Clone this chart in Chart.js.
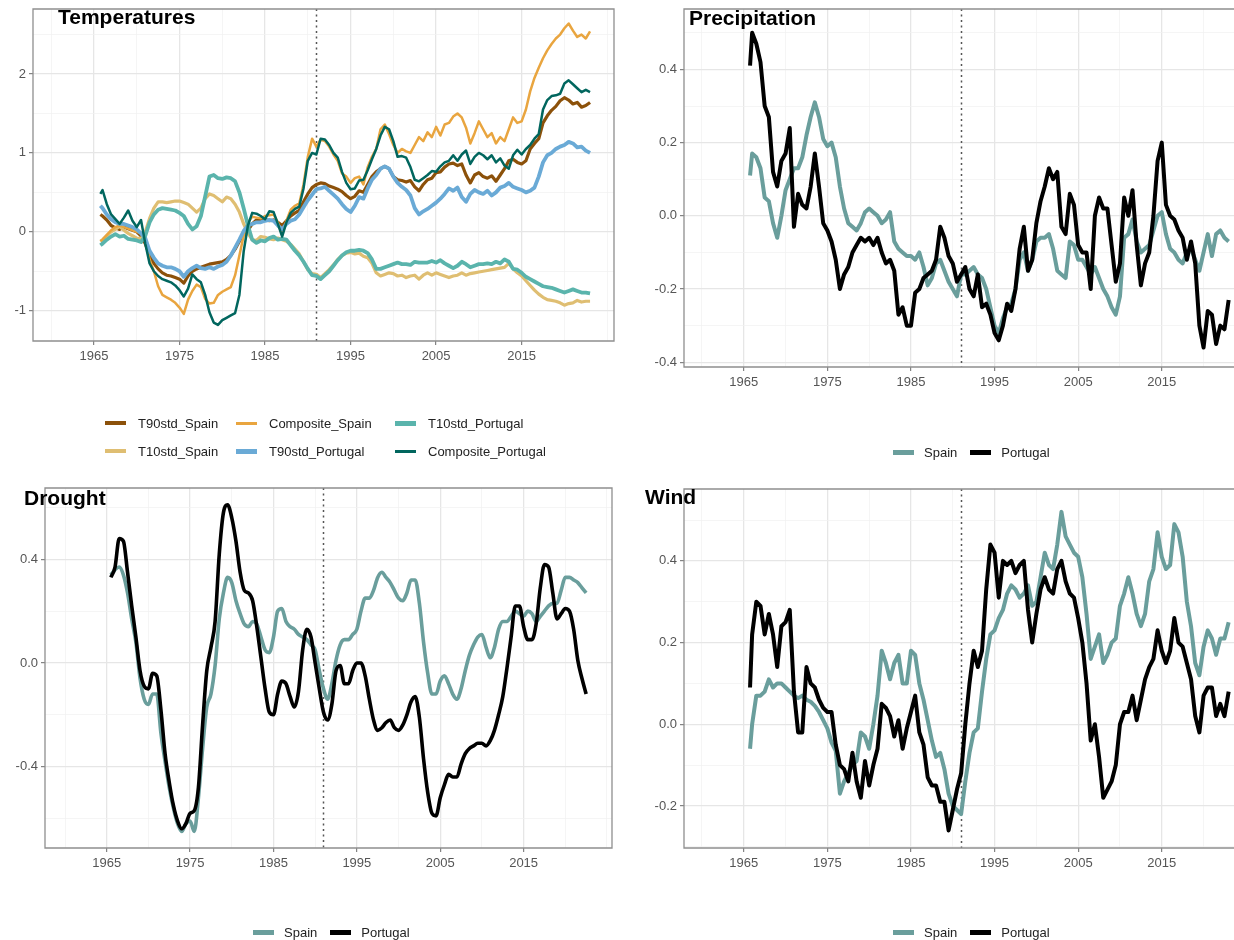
<!DOCTYPE html>
<html>
<head>
<meta charset="utf-8">
<title>Temperatures, Precipitation, Drought and Wind: Spain and Portugal</title>
<script src="https://cdn.jsdelivr.net/npm/chart.js@4.4.1/dist/chart.umd.min.js"></script>
<style>
  html, body { margin: 0; padding: 0; background: #fff; }
  body { width: 1234px; height: 940px; position: relative; overflow: hidden;
         font-family: "Liberation Sans", Arial, Helvetica, sans-serif; }
  canvas { position: absolute; }
  .title { position: absolute; font-weight: bold; font-size: 21px; line-height: 21px;
           color: #000; white-space: nowrap; z-index: 2; }
  .legend { position: absolute; font-size: 13px; color: #222; z-index: 2; }
  .legend.grid { display: grid; grid-auto-flow: column; grid-template-rows: 28px 28px;
                 grid-template-columns: 131px 159px auto; }
  .legend.row { display: flex; height: 28px; }
  .item { display: flex; align-items: center; height: 28px; white-space: nowrap; }
  .legend.row .item { margin-right: 13px; }
  .key { display: inline-block; width: 21px; margin-right: 10px; }
  .legend.grid .key { margin-right: 12px; }
</style>
</head>
<body>
<canvas id="tempChart" width="620" height="470" style="left:0;top:0;width:620px;height:470px"></canvas>
<canvas id="precChart" width="614" height="470" style="left:620px;top:0;width:614px;height:470px"></canvas>
<canvas id="drouChart" width="620" height="470" style="left:0;top:470px;width:620px;height:470px"></canvas>
<canvas id="windChart" width="614" height="470" style="left:620px;top:470px;width:614px;height:470px"></canvas>

<div class="title" style="left:58px;top:6px">Temperatures</div>
<div class="title" style="left:689px;top:7px">Precipitation</div>
<div class="title" style="left:24px;top:487px">Drought</div>
<div class="title" style="left:645px;top:486px">Wind</div>

<div id="tempLegend" class="legend grid" style="left:105px;top:409px"></div>
<div id="precLegend" class="legend row" style="left:893px;top:438px"></div>
<div id="drouLegend" class="legend row" style="left:253px;top:918px"></div>
<div id="windLegend" class="legend row" style="left:893px;top:918px"></div>

<script>
// time index: half-year steps, first observation just before 1966
const years = [1965.75];
for (let y = 1966; y <= 2023; y += 0.5) years.push(y);
// the drought index is smoothed and starts half a year earlier
const droughtYears = [];
for (let y = 1965.5; y <= 2022.5; y += 0.5) droughtYears.push(y);

const breakYear = 1991;
const xTicks = [1960, 1965, 1970, 1975, 1980, 1985, 1990, 1995, 2000, 2005, 2010, 2015, 2020, 2025];
const xLabels = [1965, 1975, 1985, 1995, 2005, 2015];

const tempTicks = [-1.5, -1, -0.5, 0, 0.5, 1, 1.5, 2, 2.5];
const tempLabels = [-1, 0, 1, 2];
const precTicks = [-0.4, -0.3, -0.2, -0.1, 0, 0.1, 0.2, 0.3, 0.4, 0.5];
const precLabels = [-0.4, -0.2, 0, 0.2, 0.4];
const drouTicks = [-0.6, -0.4, -0.2, 0, 0.2, 0.4, 0.6];
const drouLabels = [-0.4, 0, 0.4];
const windTicks = [-0.3, -0.2, -0.1, 0, 0.1, 0.2, 0.3, 0.4, 0.5];
const windLabels = [-0.2, 0, 0.2, 0.4];

// ---- Temperatures (standardised indices) ----
const t90Spain = [0.22,
  0.2, 0.15, 0.08, 0.05, 0.03, 0.06, 0.04, 0.02, 0.0, -0.05,
  -0.15, -0.3, -0.4, -0.47, -0.52, -0.55, -0.56, -0.58, -0.6, -0.65,
  -0.56, -0.5, -0.47, -0.45, -0.43, -0.41, -0.4, -0.39, -0.38, -0.35,
  -0.3, -0.22, -0.12, -0.03, 0.02, 0.1, 0.15, 0.14, 0.16, 0.14,
  0.15, 0.12, 0.08, 0.14, 0.2, 0.24, 0.27, 0.38, 0.48, 0.56,
  0.6, 0.62, 0.61, 0.58, 0.56, 0.54, 0.51, 0.46, 0.42, 0.45,
  0.52, 0.5, 0.6, 0.7, 0.76, 0.8, 0.83, 0.8, 0.7, 0.66,
  0.65, 0.63, 0.65, 0.57, 0.52, 0.6, 0.66, 0.68, 0.75, 0.76,
  0.82, 0.86, 0.87, 0.84, 0.86, 0.72, 0.62, 0.72, 0.75, 0.7,
  0.68, 0.71, 0.64, 0.72, 0.8, 0.9, 0.92, 0.88, 0.86, 0.9,
  1.05, 1.12, 1.18, 1.38, 1.47, 1.54, 1.59, 1.66, 1.7, 1.67,
  1.62, 1.64, 1.58, 1.6, 1.64];
const t10Spain = [-0.12,
  -0.1, -0.05, 0.0, 0.03, 0.07, 0.02, -0.02, -0.05, -0.08, -0.09,
  0.0, 0.17, 0.3, 0.38, 0.38, 0.37, 0.38, 0.39, 0.39, 0.37,
  0.35, 0.3, 0.25, 0.3, 0.42, 0.48, 0.46, 0.42, 0.38, 0.44,
  0.42, 0.35, 0.25, 0.1, -0.02, -0.1, -0.11, -0.06, -0.07, -0.09,
  -0.1, -0.08, -0.1, -0.12, -0.16, -0.22, -0.28, -0.38, -0.48, -0.53,
  -0.54, -0.58, -0.53, -0.48, -0.42, -0.35, -0.3, -0.27, -0.26, -0.28,
  -0.27, -0.31, -0.33, -0.4, -0.52, -0.56, -0.54, -0.52, -0.53, -0.56,
  -0.55, -0.58, -0.56, -0.55, -0.6, -0.55, -0.52, -0.55, -0.52, -0.54,
  -0.56, -0.58, -0.56, -0.55, -0.52, -0.55, -0.53, -0.52, -0.51, -0.5,
  -0.49, -0.48, -0.47, -0.46, -0.45, -0.4, -0.47, -0.52, -0.56, -0.62,
  -0.68, -0.74, -0.79, -0.83, -0.86, -0.87, -0.88, -0.9, -0.93, -0.91,
  -0.9, -0.87, -0.89, -0.88, -0.88];
const compSpain = [-0.12,
  -0.1, -0.04, 0.02, 0.06, 0.08, 0.06, 0.04, 0.02, 0.0, -0.02,
  -0.1, -0.35, -0.5, -0.69, -0.8, -0.83, -0.86, -0.9, -0.96, -1.04,
  -0.86, -0.75, -0.67, -0.7, -0.85, -0.91, -0.9, -0.8, -0.76, -0.73,
  -0.7, -0.55, -0.3, -0.05, 0.12, 0.19, 0.18, 0.17, 0.2, 0.21,
  0.22, 0.12, -0.04, 0.14, 0.28, 0.33, 0.36, 0.6, 0.95, 1.18,
  1.08, 1.17, 1.15, 1.08, 0.98, 0.9, 0.74, 0.7, 0.62, 0.68,
  0.7, 0.6, 0.82, 0.95, 1.05, 1.3, 1.36, 1.24, 1.1, 1.0,
  1.05, 1.02, 1.0, 1.1, 1.2, 1.15, 1.26, 1.2, 1.33, 1.22,
  1.36, 1.38, 1.46, 1.5, 1.45, 1.32, 1.12, 1.25, 1.4, 1.3,
  1.2, 1.25, 1.12, 1.2, 1.15, 1.3, 1.45, 1.38, 1.4, 1.55,
  1.78, 1.95, 2.08, 2.2, 2.3, 2.38, 2.45, 2.5, 2.58, 2.64,
  2.55, 2.47, 2.5, 2.45, 2.54];
const t90Portugal = [0.33,
  0.3, 0.22, 0.16, 0.12, 0.1, 0.1, 0.08, 0.06, 0.03, -0.02,
  -0.08, -0.24, -0.33, -0.4, -0.43, -0.45, -0.45, -0.47, -0.5, -0.57,
  -0.5, -0.46, -0.43, -0.46, -0.47, -0.45, -0.47, -0.44, -0.42, -0.38,
  -0.3, -0.2, -0.1, 0.01, 0.08, 0.1, 0.12, 0.12, 0.14, 0.15,
  0.14, 0.08, 0.03, 0.1, 0.14, 0.16, 0.22, 0.31, 0.4, 0.47,
  0.54, 0.55, 0.57, 0.52, 0.47, 0.42, 0.35, 0.29, 0.25, 0.33,
  0.44, 0.42, 0.55, 0.66, 0.72, 0.8, 0.83, 0.8, 0.7, 0.62,
  0.57, 0.53, 0.46, 0.3, 0.22, 0.26, 0.29, 0.33, 0.37, 0.42,
  0.48, 0.55, 0.52, 0.56, 0.44, 0.38, 0.48, 0.53, 0.5, 0.48,
  0.52, 0.46, 0.5, 0.56, 0.58, 0.62, 0.57, 0.55, 0.53, 0.5,
  0.52, 0.56, 0.7, 0.88, 0.97, 1.0, 1.05, 1.08, 1.1, 1.14,
  1.12, 1.07, 1.08, 1.03, 1.0];
const t10Portugal = [-0.17,
  -0.15, -0.1, -0.06, -0.03, -0.06, -0.05, -0.09, -0.1, -0.11, -0.13,
  -0.05, 0.12, 0.22, 0.28, 0.3, 0.29, 0.28, 0.27, 0.24, 0.2,
  0.1, 0.03, 0.07, 0.2, 0.45, 0.7, 0.72, 0.68, 0.67, 0.69,
  0.68, 0.64, 0.5, 0.3, 0.08, -0.1, -0.14, -0.11, -0.12, -0.08,
  -0.06, -0.1, -0.09, -0.1, -0.17, -0.24, -0.3, -0.38, -0.47, -0.55,
  -0.56, -0.6, -0.55, -0.5, -0.43, -0.36, -0.3, -0.26, -0.24, -0.24,
  -0.23, -0.24, -0.27, -0.35, -0.47, -0.47, -0.45, -0.43, -0.41, -0.39,
  -0.41, -0.41, -0.42, -0.38, -0.39, -0.39, -0.39, -0.37, -0.39, -0.36,
  -0.4, -0.43, -0.46, -0.43, -0.38, -0.41, -0.45, -0.43, -0.41, -0.41,
  -0.4, -0.41, -0.38, -0.4, -0.35, -0.38, -0.47, -0.48, -0.52, -0.57,
  -0.6, -0.63, -0.66, -0.69, -0.7, -0.71, -0.73, -0.75, -0.77, -0.75,
  -0.73, -0.75, -0.77, -0.77, -0.78];
const compPortugal = [0.48,
  0.53, 0.35, 0.22, 0.16, 0.1, 0.18, 0.27, 0.14, 0.06, 0.15,
  -0.15, -0.4, -0.5, -0.56, -0.6, -0.62, -0.64, -0.68, -0.74, -0.82,
  -0.72, -0.54, -0.6, -0.64, -0.8, -1.02, -1.15, -1.18, -1.12, -1.09,
  -1.06, -1.03, -0.8, -0.25, 0.08, 0.24, 0.23, 0.2, 0.16, 0.26,
  0.25, 0.1, -0.06, 0.12, 0.24, 0.29, 0.32, 0.55, 0.9, 1.0,
  0.98, 1.18, 1.17, 1.1, 1.0, 0.94, 0.76, 0.62, 0.54, 0.55,
  0.65, 0.66, 0.78, 0.92, 1.05, 1.22, 1.33, 1.3, 1.15, 0.95,
  0.96, 0.94, 0.82, 0.66, 0.64, 0.68, 0.72, 0.77, 0.76, 0.83,
  0.88, 0.9, 0.97, 0.9, 0.98, 1.03, 0.86, 0.95, 1.0, 0.97,
  0.92, 0.97, 0.88, 0.93, 0.84, 0.8, 0.97, 1.04, 0.98, 1.05,
  1.1, 1.18, 1.24, 1.55, 1.67, 1.72, 1.73, 1.75, 1.88, 1.92,
  1.87, 1.82, 1.77, 1.8, 1.77];

// ---- Precipitation ----
const precSpain = [0.11,
  0.17, 0.16, 0.13, 0.05, 0.04, -0.02, -0.06, 0.0, 0.07, 0.1,
  0.13, 0.13, 0.16, 0.22, 0.27, 0.31, 0.27, 0.21, 0.19, 0.2,
  0.16, 0.08, 0.02, -0.02, -0.03, -0.04, -0.02, 0.01, 0.02, 0.01,
  0.0, -0.02, -0.01, 0.01, -0.07, -0.09, -0.1, -0.11, -0.11, -0.12,
  -0.1, -0.14, -0.19, -0.17, -0.13, -0.12, -0.15, -0.18, -0.2, -0.22,
  -0.16, -0.16, -0.15, -0.14, -0.16, -0.17, -0.2, -0.25, -0.3, -0.32,
  -0.28, -0.25, -0.24, -0.2, -0.12, -0.1, -0.15, -0.12, -0.07, -0.06,
  -0.06, -0.05, -0.09, -0.15, -0.16, -0.17, -0.07, -0.08, -0.12, -0.12,
  -0.14, -0.16, -0.14, -0.17, -0.2, -0.22, -0.25, -0.27, -0.22, -0.06,
  -0.05, -0.01, -0.07, -0.1, -0.09, -0.08, -0.04, 0.0, 0.01, -0.05,
  -0.09, -0.1, -0.12, -0.13, -0.1, -0.09, -0.12, -0.15, -0.1, -0.05,
  -0.11, -0.05, -0.04, -0.06, -0.07];
const precPortugal = [0.41,
  0.5, 0.47, 0.42, 0.3, 0.27, 0.12, 0.08, 0.15, 0.17, 0.24,
  -0.03, 0.06, 0.03, 0.02, 0.08, 0.17, 0.08, -0.02, -0.04, -0.07,
  -0.12, -0.2, -0.16, -0.14, -0.1, -0.08, -0.06, -0.07, -0.06, -0.08,
  -0.06, -0.1, -0.13, -0.12, -0.15, -0.27, -0.25, -0.3, -0.3, -0.21,
  -0.2, -0.17, -0.16, -0.15, -0.12, -0.03, -0.06, -0.11, -0.13, -0.18,
  -0.16, -0.14, -0.2, -0.22, -0.16, -0.25, -0.24, -0.27, -0.32, -0.34,
  -0.3, -0.24, -0.26, -0.2, -0.09, -0.03, -0.15, -0.12, -0.02, 0.04,
  0.08, 0.13, 0.1, 0.12, -0.03, -0.05, 0.06, 0.03, -0.08, -0.1,
  -0.1, -0.2, 0.0, 0.05, 0.02, 0.02, -0.08, -0.18, -0.13, 0.05,
  0.0, 0.07, -0.08, -0.19, -0.13, -0.1, 0.0, 0.15, 0.2, 0.03,
  0.0, -0.01, -0.04, -0.06, -0.12, -0.07, -0.13, -0.3, -0.36, -0.26,
  -0.27, -0.35, -0.3, -0.31, -0.23];

// ---- Drought ----
const drouSpain = [
  0.34, 0.36, 0.37, 0.34, 0.27, 0.17, 0.08, -0.06, -0.14, -0.16,
  -0.12, -0.12, -0.27, -0.38, -0.48, -0.56, -0.62, -0.65, -0.62, -0.61,
  -0.65, -0.52, -0.33, -0.17, -0.12, -0.01, 0.17, 0.27, 0.33, 0.31,
  0.24, 0.19, 0.15, 0.14, 0.16, 0.15, 0.1, 0.05, 0.04, 0.1,
  0.2, 0.21, 0.16, 0.14, 0.13, 0.11, 0.1, 0.09, 0.07, 0.05,
  -0.03, -0.1, -0.14, -0.08, 0.01, 0.07, 0.09, 0.09, 0.11, 0.13,
  0.2, 0.25, 0.25, 0.28, 0.33, 0.35, 0.33, 0.31, 0.28, 0.25,
  0.24, 0.27, 0.32, 0.32, 0.23, 0.08, -0.04, -0.12, -0.12, -0.07,
  -0.05, -0.08, -0.12, -0.14, -0.1, -0.03, 0.03, 0.07, 0.1, 0.11,
  0.06, 0.02, 0.06, 0.13, 0.16, 0.16, 0.18, 0.2, 0.19, 0.18,
  0.2, 0.19, 0.16, 0.18, 0.2, 0.22, 0.23, 0.23, 0.28, 0.33,
  0.33, 0.32, 0.31, 0.29, 0.27];
const drouPortugal = [
  0.33, 0.37, 0.48, 0.47, 0.35, 0.22, 0.1, -0.03, -0.09, -0.1,
  -0.04, -0.05, -0.18, -0.35, -0.46, -0.55, -0.61, -0.64, -0.62, -0.58,
  -0.57, -0.48, -0.24, -0.03, 0.06, 0.16, 0.42, 0.58, 0.61, 0.56,
  0.47, 0.35, 0.28, 0.27, 0.24, 0.14, 0.02, -0.1, -0.19, -0.2,
  -0.12, -0.07, -0.08, -0.13, -0.17, -0.11, 0.05, 0.13, 0.1, 0.0,
  -0.1, -0.19, -0.22, -0.16, -0.03, -0.01, -0.08, -0.08, -0.03, 0.0,
  0.0, -0.05, -0.14, -0.22, -0.26, -0.25, -0.23, -0.22, -0.25, -0.26,
  -0.24, -0.2, -0.15, -0.13, -0.21, -0.37, -0.5, -0.58, -0.59, -0.52,
  -0.47, -0.43, -0.44, -0.44, -0.39, -0.35, -0.33, -0.32, -0.31, -0.31,
  -0.32, -0.3, -0.26, -0.2, -0.13, -0.02, 0.1, 0.22, 0.22, 0.14,
  0.09, 0.09, 0.15, 0.29, 0.38, 0.37, 0.27, 0.17, 0.19, 0.21,
  0.2, 0.13, 0.01, -0.06, -0.12];

// ---- Wind ----
const windSpain = [-0.06,
  0.0, 0.07, 0.07, 0.08, 0.11, 0.09, 0.1, 0.1, 0.09, 0.08,
  0.07, 0.064, 0.07, 0.06, 0.055, 0.045, 0.03, 0.01, -0.01, -0.045,
  -0.065, -0.17, -0.14, -0.12, -0.1, -0.09, -0.02, -0.03, -0.06, 0.0,
  0.07, 0.18, 0.15, 0.11, 0.15, 0.17, 0.1, 0.1, 0.18, 0.17,
  0.1, 0.06, 0.01, -0.04, -0.08, -0.07, -0.11, -0.17, -0.2, -0.21,
  -0.22, -0.14, -0.07, -0.02, -0.01, 0.08, 0.16, 0.22, 0.23, 0.26,
  0.28, 0.32, 0.34, 0.33, 0.31, 0.32, 0.34, 0.29, 0.3, 0.36,
  0.42, 0.39, 0.38, 0.44, 0.52, 0.46, 0.44, 0.42, 0.41, 0.36,
  0.27, 0.16, 0.19, 0.22, 0.15, 0.17, 0.2, 0.21, 0.29, 0.32,
  0.36, 0.32, 0.27, 0.24, 0.27, 0.35, 0.38, 0.47, 0.41, 0.38,
  0.39, 0.49, 0.47, 0.41, 0.3, 0.24, 0.15, 0.12, 0.19, 0.23,
  0.21, 0.17, 0.21, 0.21, 0.25];
const windPortugal = [0.09,
  0.22, 0.3, 0.29, 0.22, 0.27, 0.22, 0.14, 0.24, 0.25, 0.28,
  0.08, -0.02, -0.02, 0.14, 0.1, 0.09, 0.06, 0.04, 0.03, 0.03,
  -0.05, -0.1, -0.11, -0.14, -0.07, -0.14, -0.18, -0.09, -0.15, -0.1,
  -0.06, 0.05, 0.04, 0.02, -0.03, 0.01, -0.06, -0.01, 0.03, 0.07,
  -0.02, -0.05, -0.13, -0.15, -0.15, -0.19, -0.19, -0.26, -0.21, -0.16,
  -0.12, 0.0, 0.1, 0.18, 0.14, 0.18, 0.33, 0.44, 0.42, 0.31,
  0.4, 0.39, 0.4, 0.37, 0.39, 0.4, 0.28, 0.2, 0.27, 0.33,
  0.36, 0.33, 0.32, 0.38, 0.4, 0.35, 0.32, 0.31, 0.26, 0.2,
  0.1, -0.04, 0.0, -0.08, -0.18, -0.16, -0.14, -0.1, 0.0, 0.03,
  0.03, 0.07, 0.01, 0.06, 0.11, 0.14, 0.16, 0.23, 0.18, 0.15,
  0.18, 0.26, 0.2, 0.19, 0.15, 0.11, 0.02, -0.02, 0.07, 0.09,
  0.09, 0.02, 0.05, 0.02, 0.08];

const SPAIN = '#6a9e9c';
const PORTUGAL = '#000000';

Chart.defaults.font.family = '"Liberation Sans", Arial, Helvetica, sans-serif';
Chart.defaults.font.size = 13;
Chart.defaults.color = '#555';

function series(label, xs, ys, color, width, order, smooth) {
  return {
    label, order,
    data: xs.map((x, i) => ({ x, y: ys[i] })),
    borderColor: color,
    backgroundColor: color,
    borderWidth: width,
    borderJoinStyle: 'round',
    pointRadius: 0,
    fill: false,
    tension: 0,
    cubicInterpolationMode: smooth ? 'monotone' : 'default'
  };
}

// dotted break line under the data, panel border on top of everything
const framePlugin = {
  id: 'frame',
  beforeDatasetsDraw(chart) {
    const { ctx, chartArea: a, scales: { x } } = chart;
    const px = Math.round(x.getPixelForValue(breakYear)) + 0.5;
    ctx.save();
    ctx.strokeStyle = '#555';
    ctx.lineWidth = 1.5;
    ctx.setLineDash([2, 3.5]);
    ctx.beginPath();
    ctx.moveTo(px, a.top);
    ctx.lineTo(px, a.bottom);
    ctx.stroke();
    ctx.restore();
  },
  afterDraw(chart, args, opts) {
    const { ctx, chartArea: a } = chart;
    ctx.save();
    ctx.strokeStyle = '#8f8f8f';
    ctx.lineWidth = 1.3;
    ctx.beginPath();
    if (opts.openRight) {
      ctx.moveTo(a.right + 2, a.top);
      ctx.lineTo(a.left, a.top);
      ctx.lineTo(a.left, a.bottom);
      ctx.lineTo(a.right + 2, a.bottom);
    } else {
      ctx.rect(a.left, a.top, a.right - a.left, a.bottom - a.top);
    }
    ctx.stroke();
    ctx.restore();
  }
};

function axisGrid(isMajor) {
  return {
    color: c => isMajor(c.tick.value) ? '#e6e6e6' : '#f1f1f1',
    lineWidth: c => isMajor(c.tick.value) ? 1.3 : 0.7,
    drawTicks: true,
    tickLength: 4,
    tickWidth: 1.1,
    tickColor: c => isMajor(c.tick.value) ? '#777' : 'rgba(0,0,0,0)'
  };
}

function panelOptions(p) {
  const nearly = (list, v) => list.some(t => Math.abs(t - v) < 1e-9);
  return {
    responsive: false,
    animation: false,
    devicePixelRatio: 1,
    layout: { padding: { top: p.top, right: p.right, bottom: p.bottom, left: 0 } },
    plugins: {
      legend: { display: false },
      tooltip: { enabled: false },
      frame: { openRight: p.openRight }
    },
    scales: {
      x: {
        type: 'linear',
        min: p.xMin,
        max: p.xMax,
        border: { display: false },
        grid: axisGrid(v => nearly(xLabels, v)),
        afterBuildTicks: s => {
          s.ticks = xTicks.filter(v => v >= s.min && v <= s.max).map(v => ({ value: v }));
        },
        afterFit: s => { s.height = 30; s.paddingLeft = 0; s.paddingRight = 0; },
        ticks: {
          autoSkip: false,
          maxRotation: 0,
          padding: 4,
          color: '#555',
          callback: v => nearly(xLabels, v) ? String(v) : ''
        }
      },
      y: {
        type: 'linear',
        min: p.yMin,
        max: p.yMax,
        border: { display: false },
        grid: axisGrid(v => nearly(p.yLabels, v)),
        afterBuildTicks: s => {
          s.ticks = p.yTicks.filter(v => v >= s.min && v <= s.max).map(v => ({ value: v }));
        },
        afterFit: s => { s.width = p.yWidth; s.paddingTop = 0; s.paddingBottom = 0; },
        ticks: {
          autoSkip: false,
          padding: 3,
          color: '#555',
          callback: v => nearly(p.yLabels, v) ? p.fmt(v) : ''
        }
      }
    }
  };
}

const tempSets = [
  series('T90std_Spain', years, t90Spain, '#8c510a', 3.2, 6),
  series('T10std_Spain', years, t10Spain, '#dfbe72', 3.2, 5),
  series('Composite_Spain', years, compSpain, '#e9a53f', 2.5, 4),
  series('T90std_Portugal', years, t90Portugal, '#6aaad6', 3.8, 3),
  series('T10std_Portugal', years, t10Portugal, '#5ab4ac', 3.8, 2),
  series('Composite_Portugal', years, compPortugal, '#01665e', 2.5, 1)
];

new Chart(document.getElementById('tempChart'), {
  type: 'line',
  data: { datasets: tempSets },
  options: panelOptions({
    top: 9, right: 6, bottom: 99, yWidth: 33, openRight: false,
    xMin: 1957.87, xMax: 2025.8, yMin: -1.384, yMax: 2.824,
    yTicks: tempTicks, yLabels: tempLabels, fmt: v => String(v)
  }),
  plugins: [framePlugin]
});

const precSets = [
  series('Spain', years, precSpain, SPAIN, 4, 2),
  series('Portugal', years, precPortugal, PORTUGAL, 4, 1)
];
new Chart(document.getElementById('precChart'), {
  type: 'line',
  data: { datasets: precSets },
  options: panelOptions({
    top: 9, right: 0, bottom: 73, yWidth: 64, openRight: true,
    xMin: 1957.85, xMax: 2023.64, yMin: -0.413, yMax: 0.565,
    yTicks: precTicks, yLabels: precLabels, fmt: v => v.toFixed(1)
  }),
  plugins: [framePlugin]
});

const drouSets = [
  series('Spain', droughtYears, drouSpain, SPAIN, 3.6, 2, true),
  series('Portugal', droughtYears, drouPortugal, PORTUGAL, 3.6, 1, true)
];
new Chart(document.getElementById('drouChart'), {
  type: 'line',
  data: { datasets: drouSets },
  options: panelOptions({
    top: 18, right: 8, bottom: 62, yWidth: 45, openRight: false,
    xMin: 1957.6, xMax: 2025.6, yMin: -0.714, yMax: 0.675,
    yTicks: drouTicks, yLabels: drouLabels, fmt: v => v.toFixed(1)
  }),
  plugins: [framePlugin]
});

const windSets = [
  series('Spain', years, windSpain, SPAIN, 4, 2),
  series('Portugal', years, windPortugal, PORTUGAL, 4, 1)
];
new Chart(document.getElementById('windChart'), {
  type: 'line',
  data: { datasets: windSets },
  options: panelOptions({
    top: 19, right: 0, bottom: 62, yWidth: 64, openRight: true,
    xMin: 1957.85, xMax: 2023.64, yMin: -0.303, yMax: 0.576,
    yTicks: windTicks, yLabels: windLabels, fmt: v => v.toFixed(1)
  }),
  plugins: [framePlugin]
});

// legends, built from the same dataset definitions
function buildLegend(id, sets) {
  const el = document.getElementById(id);
  sets.forEach(s => {
    const item = document.createElement('div');
    item.className = 'item';
    const key = document.createElement('span');
    key.className = 'key';
    key.style.background = s.borderColor;
    key.style.height = Math.round(s.borderWidth * 1.3) + 'px';
    item.appendChild(key);
    item.appendChild(document.createTextNode(s.label));
    el.appendChild(item);
  });
}
buildLegend('tempLegend', tempSets);
buildLegend('precLegend', precSets);
buildLegend('drouLegend', drouSets);
buildLegend('windLegend', windSets);
</script>
</body>
</html>
